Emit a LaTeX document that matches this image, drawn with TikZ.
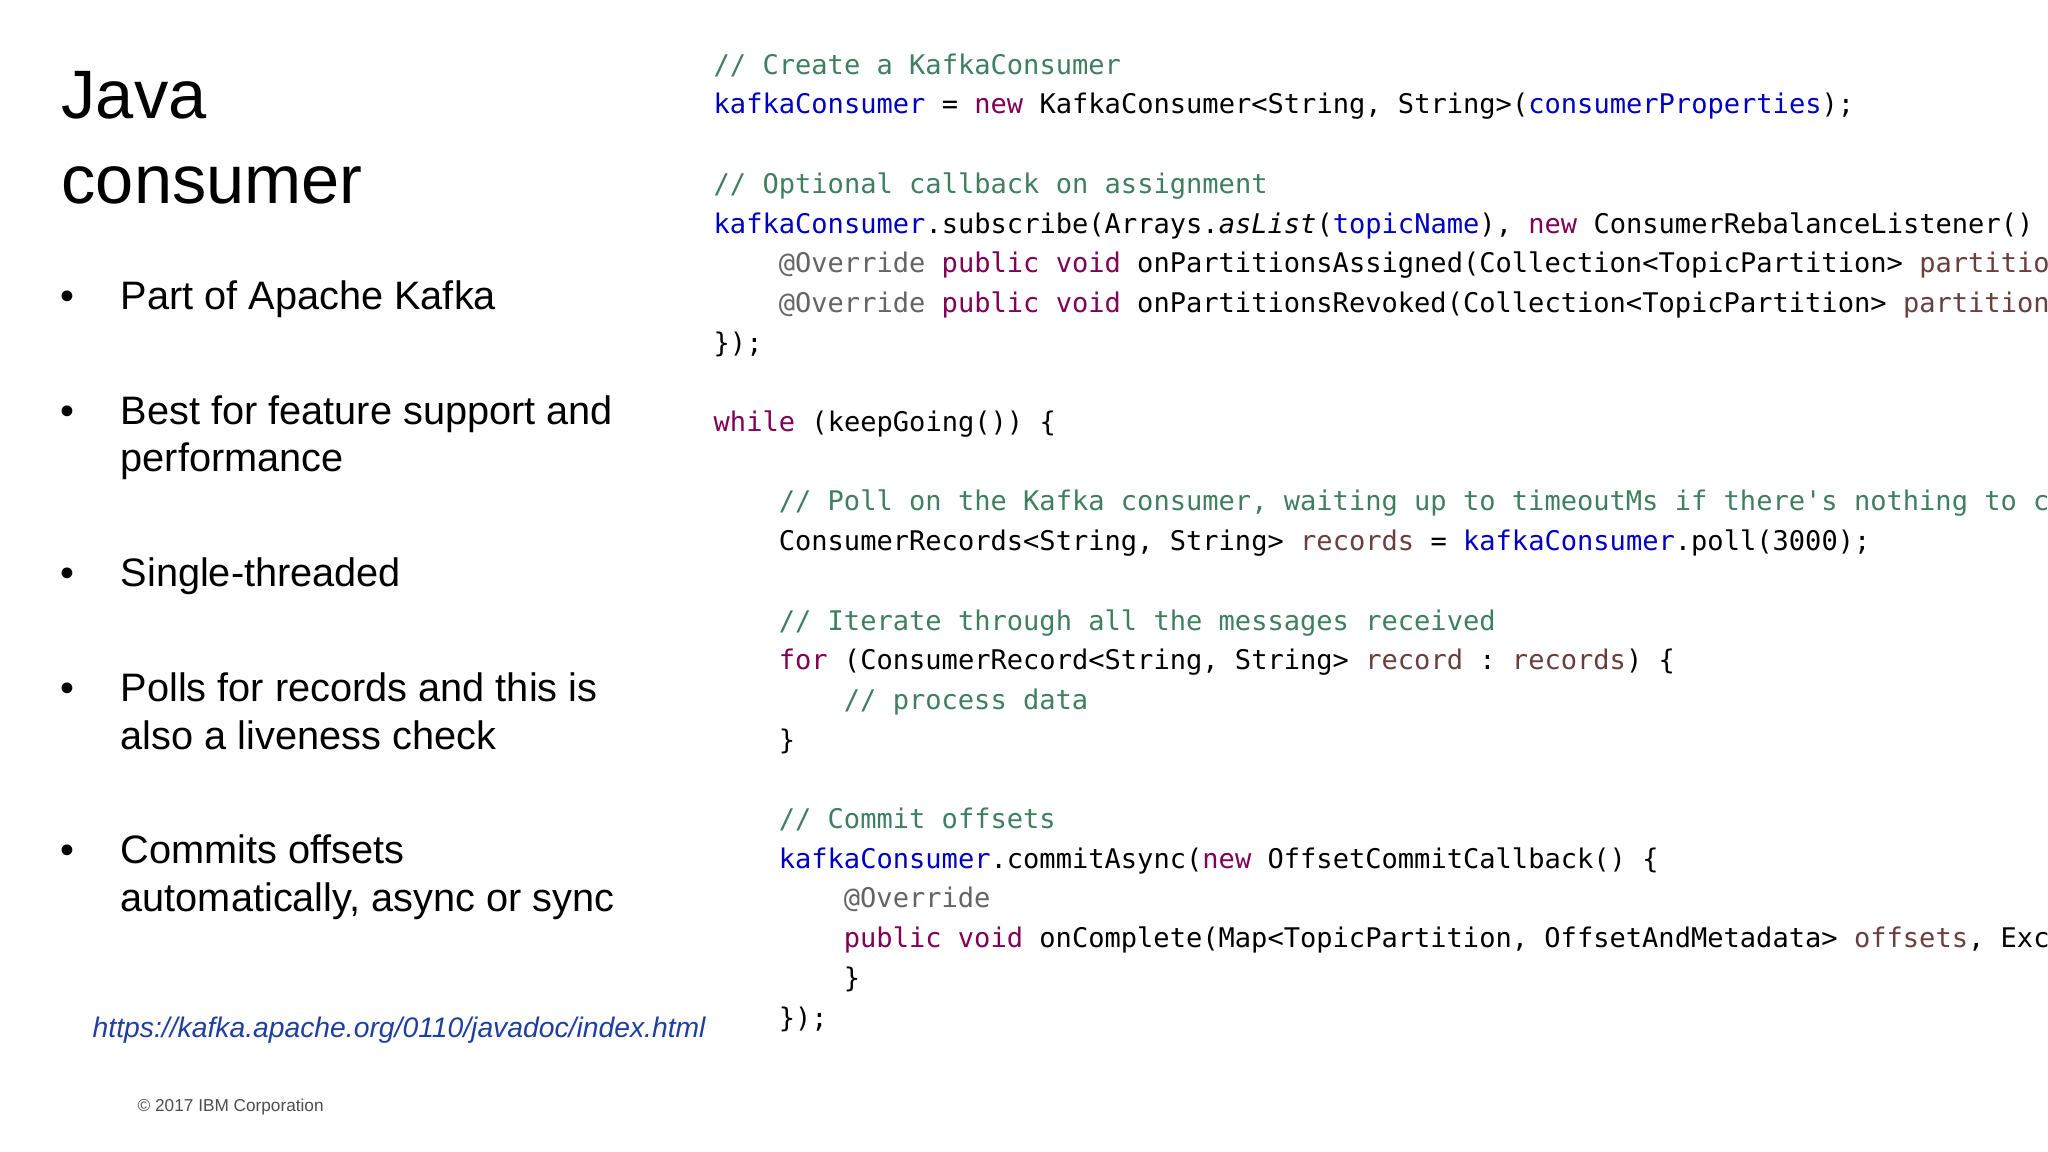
\documentclass[tikz,border=0pt]{standalone}
\usepackage{fontspec}
\setmainfont{Liberation Sans}
\setmonofont{DejaVu Sans Mono}
\definecolor{cmt}{HTML}{3F7F5F}
\definecolor{kw}{HTML}{7F0055}
\definecolor{fld}{HTML}{0000C0}
\definecolor{vr}{HTML}{6A3E3E}
\definecolor{ann}{HTML}{646464}
\definecolor{url}{HTML}{1F3FA0}
\newcommand\C[1]{\textcolor{cmt}{#1}}
\newcommand\K[1]{\textcolor{kw}{#1}}
\newcommand\F[1]{\textcolor{fld}{#1}}
\newcommand\V[1]{\textcolor{vr}{#1}}
\newcommand\A[1]{\textcolor{ann}{#1}}
\newcommand\codeline[4]{\node[codetxt] (#1) at ({7.13+0.651*#2},{10.87-0.397*#3}) {#4};}
\begin{document}
\begin{tikzpicture}[
  codetxt/.style={anchor=mid west,inner sep=0pt,font=\ttfamily\fontsize{7.7}{9}\selectfont},
  bul/.style={anchor=mid west,inner sep=0pt,font=\fontsize{11.3}{13}\selectfont},
  ttl/.style={anchor=mid west,inner sep=0pt,font=\fontsize{19.5}{24}\selectfont}]
\useasboundingbox (0,0) rectangle (20.48,11.52);
\clip (0,0) rectangle (20.48,11.52);
\node[ttl] (t1) at (0.61,10.43) {Java};
\node[ttl] (t2) at (0.61,9.58) {consumer};
\foreach \n/\y in {b1/230,b2/318,b3/442,b4/530,b5/654}
  \node[bul] (\n) at (0.60,{11.52-\y*0.01306}) {•};
\node[bul] (l1) at (1.20,{11.52-230*0.01306}) {Part of Apache Kafka};
\node[bul] (l2) at (1.20,{11.52-318*0.01306}) {Best for feature support and};
\node[bul] (l2b) at (1.20,{11.52-354*0.01306}) {performance};
\node[bul] (l3) at (1.20,{11.52-442*0.01306}) {Single-threaded};
\node[bul] (l4) at (1.20,{11.52-530*0.01306}) {Polls for records and this is};
\node[bul] (l4b) at (1.20,{11.52-567*0.01306}) {also a liveness check};
\node[bul] (l5) at (1.20,{11.52-654*0.01306}) {Commits offsets};
\node[bul] (l5b) at (1.20,{11.52-691*0.01306}) {automatically, async or sync};
\node[anchor=mid west,inner sep=0pt,font=\itshape\fontsize{8.05}{10}\selectfont,text=url] (u) at (0.92,{11.52-787*0.01306}) {https://kafka.apache.org/0110/javadoc/index.html};
\node[anchor=mid west,inner sep=0pt,font=\fontsize{4.9}{6}\selectfont,text=black!70] (cp) at (1.37,{11.52-844*0.01306}) {© 2017 IBM Corporation};
\codeline{c0}{0}{0}{\C{// Create a KafkaConsumer}}
\codeline{c1}{0}{1}{\F{kafkaConsumer} = \K{new} KafkaConsumer<String, String>(\F{consumerProperties});}
\codeline{c3}{0}{3}{\C{// Optional callback on assignment}}
\codeline{c4}{0}{4}{\F{kafkaConsumer}.subscribe(Arrays.{\itshape asList}(\F{topicName}), \K{new} ConsumerRebalanceListener() \{}
\codeline{c5}{1}{5}{\A{@Override} \K{public void} onPartitionsAssigned(Collection<TopicPartition> \V{partitions}) \{\}}
\codeline{c6}{1}{6}{\A{@Override} \K{public void} onPartitionsRevoked(Collection<TopicPartition> \V{partitions}) \{\}}
\codeline{c7}{0}{7}{\});}
\codeline{c9}{0}{9}{\K{while} (keepGoing()) \{}
\codeline{c11}{1}{11}{\C{// Poll on the Kafka consumer, waiting up to timeoutMs if there's nothing to consume}}
\codeline{c12}{1}{12}{ConsumerRecords<String, String> \V{records} = \F{kafkaConsumer}.poll(3000);}
\codeline{c14}{1}{14}{\C{// Iterate through all the messages received}}
\codeline{c15}{1}{15}{\K{for} (ConsumerRecord<String, String> \V{record} : \V{records}) \{}
\codeline{c16}{2}{16}{\C{// process data}}
\codeline{c17}{1}{17}{\}}
\codeline{c19}{1}{19}{\C{// Commit offsets}}
\codeline{c20}{1}{20}{\F{kafkaConsumer}.commitAsync(\K{new} OffsetCommitCallback() \{}
\codeline{c21}{2}{21}{\A{@Override}}
\codeline{c22}{2}{22}{\K{public void} onComplete(Map<TopicPartition, OffsetAndMetadata> \V{offsets}, Exception e) \{}
\codeline{c23}{2}{23}{\}}
\codeline{c24}{1}{24}{\});}
\end{tikzpicture}
\end{document}
